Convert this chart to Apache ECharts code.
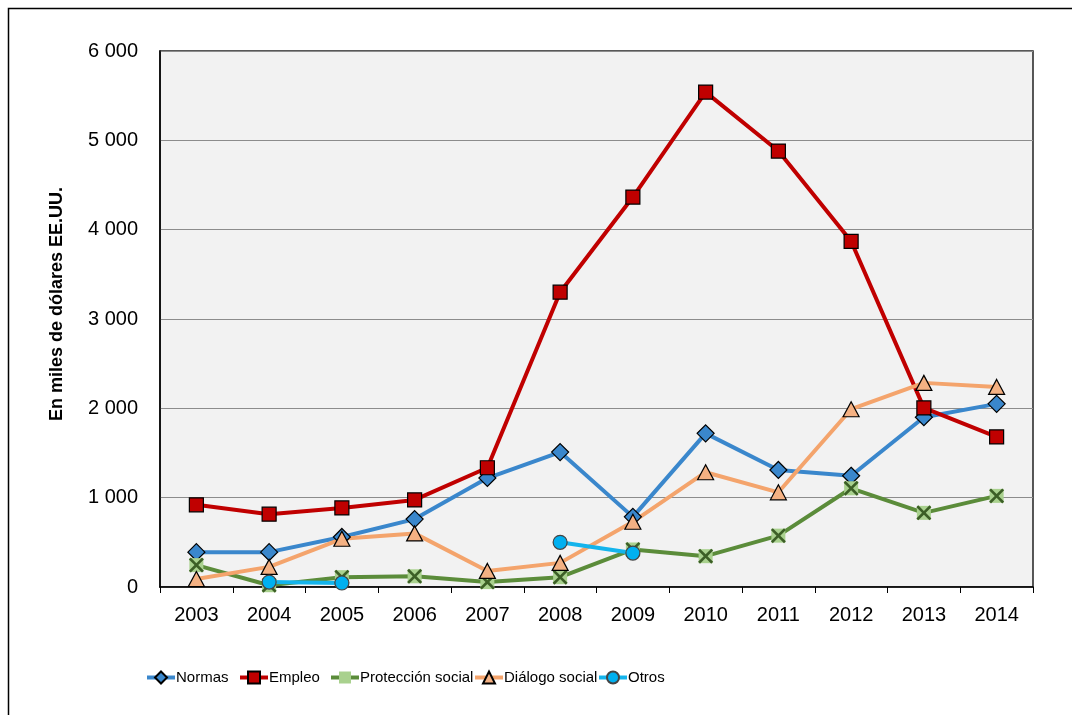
<!DOCTYPE html>
<html>
<head>
<meta charset="utf-8">
<script src="https://cdn.jsdelivr.net/npm/echarts@6/dist/echarts.min.js"></script>
<style>
html,body{margin:0;padding:0;background:#fff;}
#chart{width:1072px;height:715px;}
</style>
</head>
<body>
<div id="chart"></div>
<script>
const years = ['2003','2004','2005','2006','2007','2008','2009','2010','2011','2012','2013','2014'];
const normas = [390, 390, 560, 760, 1220, 1510, 785, 1720, 1310, 1245, 1900, 2050];
const empleo = [920, 815, 885, 975, 1335, 3300, 4365, 5540, 4880, 3870, 2005, 1680];
const proteccion = [245, 20, 110, 120, 55, 110, 420, 345, 575, 1105, 830, 1020];
const dialogo = [90, 225, 540, 600, 180, 270, 730, 1285, 1060, 1990, 2285, 2240];
const otros = [null, 55, 45, null, null, 500, 380, null, null, null, null, null];
const yTicks = [0, 1000, 2000, 3000, 4000, 5000, 6000];
const seriesNames = ['Normas','Empleo','Protección social','Diálogo social','Otros'];

const FONT = '"Liberation Sans", Arial, sans-serif';
const XPATH = 'path://M0,2.5 L2.5,0 L10,7.5 L17.5,0 L20,2.5 L12.5,10 L20,17.5 L17.5,20 L10,12.5 L2.5,20 L0,17.5 L7.5,10 Z';
const legendLefts = [140, 233, 324, 468, 592];

const chart = echarts.init(document.getElementById('chart'));
chart.setOption({
  backgroundColor: '#ffffff',
  animation: false,
  graphic: [
    {type:'rect', shape:{x:8.5, y:8.5, width:1100, height:740}, style:{fill:'none', stroke:'#000', lineWidth:1.5}, z:-1},
    {type:'text', x:57, y:304, rotation:Math.PI/2, style:{text:'En miles de dólares EE.UU.', font:'bold 18px "Liberation Sans", Arial, sans-serif', fill:'#000', align:'center', verticalAlign:'middle'}}
  ],
  grid: {left:160, top:51, width:873, height:536, show:true, backgroundColor:'#f2f2f2', borderColor:'#222', borderWidth:1.5},
  legend: seriesNames.map((n, i) => ({
    left: legendLefts[i], top: 665, itemWidth: 28, itemHeight: 15,
    lineStyle: {width: 4},
    textStyle: {fontFamily: FONT, fontSize: 15, color: '#000', padding:[0,0,0,-4]},
    data: [n]
  })),
  xAxis: {
    type: 'category', data: years, boundaryGap: true,
    axisLine: {lineStyle:{color:'#000', width:1.5}},
    axisTick: {show:true, length:6, lineStyle:{color:'#000', width:1}},
    axisLabel: {fontFamily:FONT, fontSize:20, color:'#000', margin:18}
  },
  yAxis: {
    type: 'value', min: yTicks[0], max: yTicks[yTicks.length-1], interval: 1000,
    axisLine: {show:true, lineStyle:{color:'#000', width:1.5}},
    axisTick: {show:false},
    splitLine: {lineStyle:{color:'#8c8c8c', width:1.2}},
    axisLabel: {fontFamily:FONT, fontSize:20, color:'#000', margin:22,
      formatter: v => String(v).replace(/\B(?=(\d{3})+(?!\d))/g, ' ')}
  },
  series: [
    {name:'Normas', type:'line', data: normas, symbol:'diamond', symbolSize:17,
      lineStyle:{color:'#3a87cc', width:4}, itemStyle:{color:'#3a87cc', borderColor:'#000', borderWidth:1.2}},
    {name:'Empleo', type:'line', data: empleo, symbol:'rect', symbolSize:14,
      lineStyle:{color:'#c00000', width:4}, itemStyle:{color:'#c00000', borderColor:'#000', borderWidth:1.2}},
    {name:'Protección social', type:'line', data: proteccion, symbol:'rect', symbolSize:14,
      lineStyle:{color:'#5b8c3a', width:4}, itemStyle:{color:'#a9d18e', borderWidth:0}},
    {name:'Protección social', type:'line', data: proteccion, symbol:XPATH, symbolSize:15,
      lineStyle:{width:0, opacity:0}, itemStyle:{color:'#3c5f26'}, legendHoverLink:false},
    {name:'Diálogo social', type:'line', data: dialogo, symbol:'triangle', symbolSize:[16,15],
      lineStyle:{color:'#f4a46c', width:4}, itemStyle:{color:'#f4b183', borderColor:'#000', borderWidth:1.2}},
    {name:'Otros', type:'line', data: otros, symbol:'circle', symbolSize:14, connectNulls:false,
      lineStyle:{color:'#14b4ec', width:4}, itemStyle:{color:'#00b0f0', borderColor:'#444', borderWidth:1.2}}
  ]
});
</script>
</body>
</html>
